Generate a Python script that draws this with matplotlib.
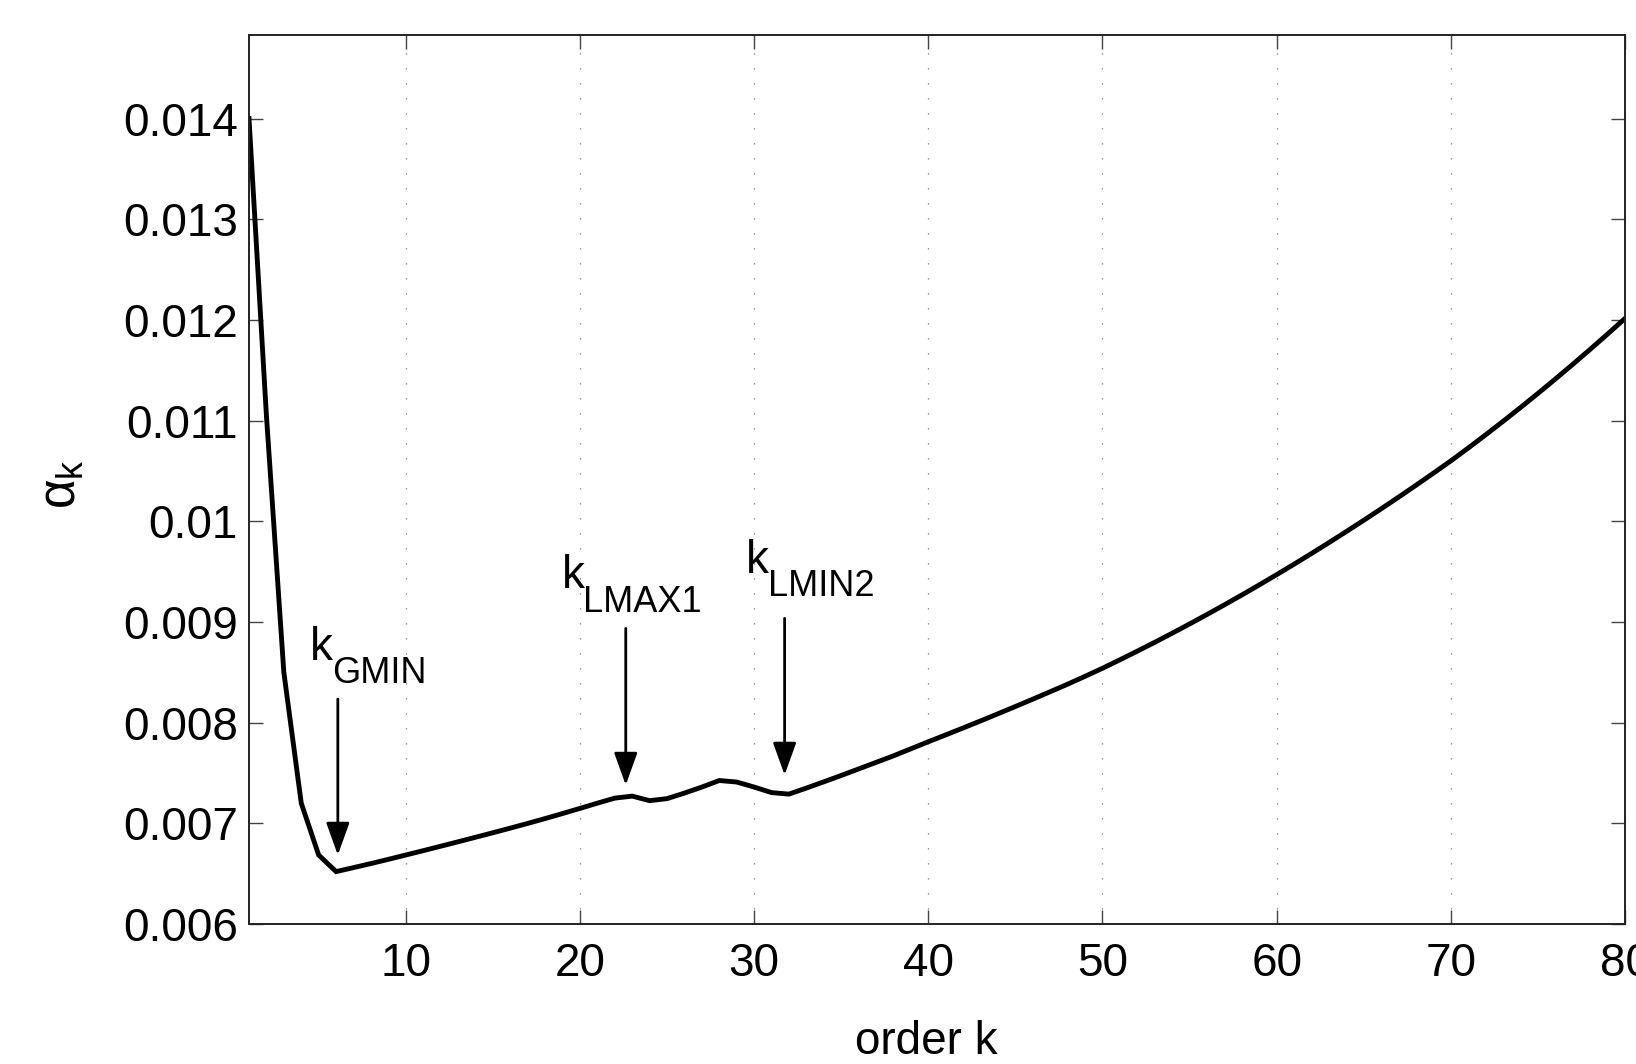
import matplotlib
matplotlib.use('agg')
import matplotlib.pyplot as plt

# alpha_k against order k
order_k = list(range(1, 81))
alpha_k = [0.01400, 0.01105, 0.00850, 0.00720, 0.006685, 0.006520, 0.006560, 0.006600,
           0.006642, 0.006685, 0.006728, 0.006772, 0.006816, 0.006861, 0.006906, 0.006952,
           0.006999, 0.007047, 0.007097, 0.007148, 0.007200, 0.007250, 0.007270, 0.007225,
           0.007245, 0.007300, 0.007360, 0.007425, 0.007410, 0.007360, 0.007305, 0.007290,
           0.007350, 0.007412, 0.007475, 0.007540, 0.007605, 0.007670, 0.007740, 0.007810,
           0.007878, 0.007947, 0.008017, 0.008088, 0.008160, 0.008233, 0.008307, 0.008382,
           0.008460, 0.008540, 0.008624, 0.008710, 0.008798, 0.008888, 0.008980, 0.009074,
           0.009170, 0.009268, 0.009368, 0.009470, 0.009574, 0.009680, 0.009788, 0.009898,
           0.010010, 0.010124, 0.010240, 0.010358, 0.010478, 0.010600, 0.010728, 0.010859,
           0.010993, 0.011130, 0.011270, 0.011413, 0.011559, 0.011708, 0.011860, 0.012015]

x_ticks = [10, 20, 30, 40, 50, 60, 70, 80]
y_ticks = [0.006, 0.007, 0.008, 0.009, 0.010, 0.011, 0.012, 0.013, 0.014]
y_tick_labels = ['0.006', '0.007', '0.008', '0.009', '0.01', '0.011', '0.012', '0.013', '0.014']

# marked orders: name, arrow x, arrow tail y, arrow tip y
marks = ['GMIN', 'LMAX1', 'LMIN2']
mark_k = [6.1, 22.63, 31.75]
mark_tail = [0.008234, 0.008936, 0.009036]
mark_tip = [0.006685, 0.007380, 0.007480]

plt.rcParams['font.family'] = ['Liberation Sans', 'DejaVu Sans']
plt.rcParams['mathtext.fontset'] = 'custom'
plt.rcParams['mathtext.rm'] = 'Liberation Sans'
plt.rcParams['mathtext.it'] = 'Liberation Sans'

fig = plt.figure(figsize=(16.36, 10.64), dpi=100)
ax = fig.add_axes([0.1522, 0.1316, 0.8411, 0.8355])

ax.plot(order_k, alpha_k, color='black', lw=3.5, solid_joinstyle='miter')

ax.set_xlim(1, 80)
ax.set_ylim(0.006, 0.01483)
ax.set_xticks(x_ticks)
ax.set_yticks(y_ticks)
ax.set_yticklabels(y_tick_labels)
ax.xaxis.grid(True, linestyle=(0, (1, 11)), color='#777777', lw=0.9)
ax.set_axisbelow(True)

ax.tick_params(direction='in', top=True, right=True, length=10, width=1,
               color='#444444', labelsize=33, pad=8)
ax.tick_params(axis='x', pad=13)
for s in ax.spines.values():
    s.set_linewidth(1.4)
    s.set_color('#222222')

ax.set_xlabel('order k', fontsize=33)
ax.xaxis.set_label_coords(0.4925, -0.108)
ax.set_ylabel(r'$\alpha_k$', fontsize=37)
ax.yaxis.set_label_coords(-0.118, 0.495)

# arrows
for j in range(len(marks)):
    ax.annotate('', xy=(mark_k[j], mark_tip[j]), xytext=(mark_k[j], mark_tail[j]),
                arrowprops=dict(arrowstyle='-|>,head_length=1.0,head_width=0.36',
                                mutation_scale=20, lw=2, color='black',
                                shrinkA=0, shrinkB=0))

# labels: k with subscripts, placed by hand
ax.text(4.50, 0.008622, 'k', fontsize=33, va='baseline', ha='left')
ax.text(5.745, 0.008396, 'GMIN', fontsize=26, va='baseline', ha='left')
ax.text(18.97, 0.009334, 'k', fontsize=33, va='baseline', ha='left')
ax.text(20.18, 0.009101, 'LMAX1', fontsize=26, va='baseline', ha='left')
ax.text(29.51, 0.009483, 'k', fontsize=33, va='baseline', ha='left')
ax.text(30.79, 0.009257, 'LMIN2', fontsize=26, va='baseline', ha='left')

plt.savefig('out.png', dpi=100)
